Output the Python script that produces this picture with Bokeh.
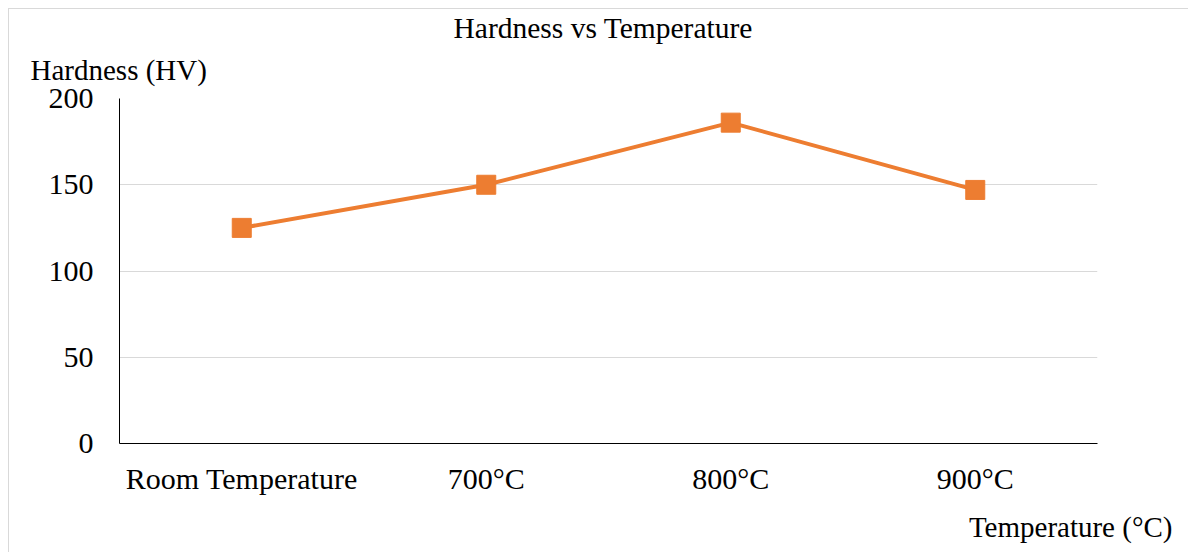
from bokeh.plotting import figure
from bokeh.models import FactorRange, Range1d, FixedTicker, Title, ColumnDataSource
from bokeh.embed import file_html
from bokeh.resources import INLINE

categories = ["Room Temperature", "700°C", "800°C", "900°C"]
hardness = [125, 150, 186, 147]
y_ticks = [0, 50, 100, 150, 200]

TITLE = "Hardness vs Temperature"
Y_LABEL = "Hardness (HV)"
X_LABEL = "Temperature (°C)"

FONT = "Liberation Serif"
FS = "30px"
FS_TITLE = "29.5px"
FS_LAB = "29px"
ORANGE = "#ED7D31"

src = ColumnDataSource(data=dict(cat=categories, hv=hardness))

p = figure(
    x_range=FactorRange(*categories, range_padding=0),
    y_range=Range1d(0, 200),
    width=1180, height=544,
    output_backend="svg", toolbar_location=None,
    min_border_left=110, min_border_right=92,
    min_border_top=88, min_border_bottom=110,
)
p.styles = {"margin-left": "8px", "margin-top": "8px",
            "border-left": "1px solid #d9d9d9", "border-top": "1px solid #d9d9d9"}
p.outline_line_color = None
p.background_fill_color = "white"
p.border_fill_color = "white"

p.line(x="cat", y="hv", source=src, line_color=ORANGE, line_width=4)
p.scatter(x="cat", y="hv", source=src, marker="square", size=19,
          fill_color=ORANGE, line_color=ORANGE)

p.yaxis.ticker = FixedTicker(ticks=y_ticks)
for ax in (p.xaxis[0], p.yaxis[0]):
    ax.major_tick_line_color = None
    ax.minor_tick_line_color = None
    ax.axis_line_color = "black"
    ax.axis_line_width = 1
    ax.major_label_text_font = FONT
    ax.major_label_text_font_size = FS
    ax.major_label_text_color = "black"
p.yaxis.major_label_standoff = 20
p.xaxis.major_label_standoff = 12

p.xgrid.grid_line_color = None
p.ygrid.grid_line_color = "#d9d9d9"
p.ygrid.grid_line_width = 1

# y-axis name (top-left, horizontal)
ylab = Title(text=Y_LABEL, align="left", offset=-89, standoff=21,
             vertical_align="top",
             text_font=FONT, text_font_size=FS_LAB, text_font_style="normal",
             text_color="black")
p.add_layout(ylab, "above")

# chart title
p.title = Title(text=TITLE, align="left", offset=334, standoff=0,
                vertical_align="bottom",
                text_font=FONT, text_font_size=FS_TITLE, text_font_style="normal",
                text_color="black")

# x-axis name (bottom-right)
xlab = Title(text=X_LABEL, align="right", offset=-75, standoff=22,
             text_font=FONT, text_font_size=FS_LAB, text_font_style="normal",
             text_color="black")
p.add_layout(xlab, "below")

open("out.html", "w").write(file_html(p, INLINE))
